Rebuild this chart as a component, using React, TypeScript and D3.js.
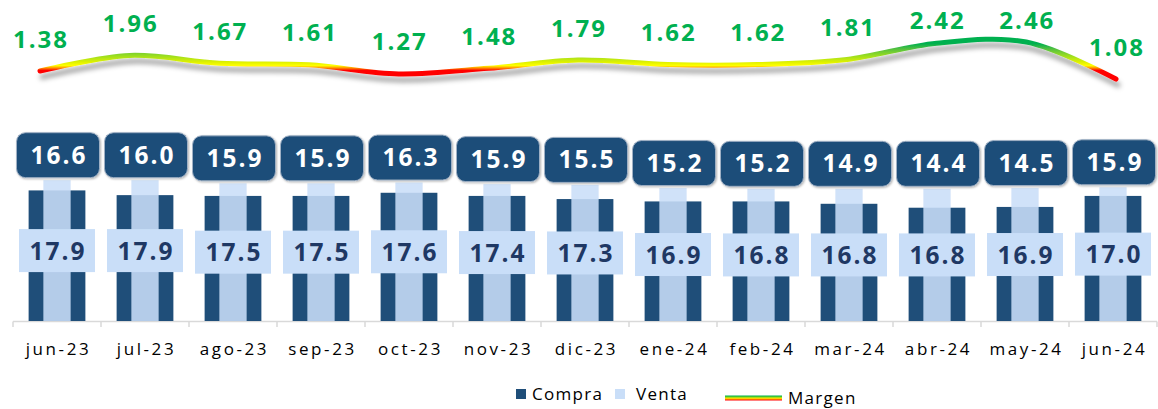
import React from "react";
import * as d3 from "d3";

const categories = ["jun-23","jul-23","ago-23","sep-23","oct-23","nov-23","dic-23","ene-24","feb-24","mar-24","abr-24","may-24","jun-24"];
const compra = [16.6,16.0,15.9,15.9,16.3,15.9,15.5,15.2,15.2,14.9,14.4,14.5,15.9];
const venta = [17.9,17.9,17.5,17.5,17.6,17.4,17.3,16.9,16.8,16.8,16.8,16.9,17.0];
const margen = [1.38,1.96,1.67,1.61,1.27,1.48,1.79,1.62,1.62,1.81,2.42,2.46,1.08];
const legendItems = ["Compra","Venta","Margen"];

const W = 1158, H = 409;
const DARK = "#1f4e79";
const LIGHT = "#c9def8";
const NAVY = "#1f3864";
const GREEN = "#00b050";
const FONT = "'Open Sans', 'DejaVu Sans', sans-serif";

export default function App() {
  const x = d3.scaleBand<string>().domain(categories).range([13, 1157]).paddingInner(0).paddingOuter(0);
  const y = d3.scaleLinear().domain([0, 30]).range([321, 85]);
  const xm = d3.scalePoint<string>().domain(categories).range([40, 1116]);
  const ym = d3.scaleLinear().domain([0, 4]).range([108, 0.8]);
  const bw = x.bandwidth();
  const cw = bw * 0.645;
  const vw = bw * 0.31;

  const line = d3.line<number>()
    .x((_, i) => xm(categories[i])!)
    .y((d) => ym(d))
    .curve(d3.curveCatmullRom.alpha(0.5));

  const gLo = 1.0, gHi = 2.6;
  const stops: [number, string][] = [
    [1.0, "#ff0000"], [1.40, "#ff0000"], [1.50, "#ff9900"], [1.58, "#ffff00"],
    [1.72, "#ddf000"], [1.95, "#99dd22"], [2.2, "#55c040"], [2.4, GREEN], [2.6, GREEN],
  ];

  const ticks = d3.range(categories.length + 1).map((i) => 13 + i * bw);

  return (
    <svg width={W} height={H} style={{ position: "absolute", left: 0, top: 0, background: "#fff" }} fontFamily={FONT}>
      <defs>
        <linearGradient id="mg" gradientUnits="userSpaceOnUse" x1={0} x2={0} y1={ym(gLo)} y2={ym(gHi)}>
          {stops.map(([v, c], i) => (
            <stop key={i} offset={(v - gLo) / (gHi - gLo)} stopColor={c} />
          ))}
        </linearGradient>
        <linearGradient id="lg" x1={0} x2={0} y1={0} y2={1}>
          <stop offset="0" stopColor={GREEN} />
          <stop offset="0.33" stopColor="#66cc22" />
          <stop offset="0.5" stopColor="#ffff00" />
          <stop offset="0.7" stopColor="#ff9900" />
          <stop offset="1" stopColor="#ff0000" />
        </linearGradient>
        <filter id="sh" x="-5%" y="-50%" width="110%" height="250%">
          <feDropShadow dx="2" dy="6" stdDeviation="2.5" floodColor="#000" floodOpacity="0.35" />
        </filter>
        <filter id="bs" x="-10%" y="-10%" width="120%" height="130%">
          <feDropShadow dx="1" dy="1" stdDeviation="0.8" floodColor="#000" floodOpacity="0.3" />
        </filter>
      </defs>

      {/* axis */}
      <line x1={13} x2={1157} y1={321.5} y2={321.5} stroke="#d9d9d9" strokeWidth={1.5} />
      {ticks.map((t, i) => (
        <line key={i} x1={t} x2={t} y1={321.5} y2={327} stroke="#d9d9d9" strokeWidth={1.5} />
      ))}

      {/* bars */}
      {categories.map((c, i) => {
        const cx = x(c)! + bw / 2;
        return (
          <g key={c}>
            <rect x={cx - cw / 2} y={y(compra[i])} width={cw} height={y(0) - y(compra[i])} fill={DARK} />
            <rect x={cx - vw / 2} y={y(venta[i])} width={vw} height={y(0) - y(venta[i])} fill={LIGHT} fillOpacity={0.88} />
          </g>
        );
      })}

      {/* venta labels */}
      {categories.map((c, i) => {
        const cx = x(c)! + bw / 2;
        const cy = (y(venta[i]) + y(0)) / 2;
        return (
          <g key={c}>
            <rect x={cx - 38} y={cy - 21.5} width={76} height={43} fill={LIGHT} />
            <text x={cx + 1} y={cy + 9} textAnchor="middle" fontSize={24.5} fontWeight={700} fill={NAVY} letterSpacing={2}>
              {venta[i].toFixed(1)}
            </text>
          </g>
        );
      })}

      {/* compra labels */}
      {categories.map((c, i) => {
        const cx = x(c)! + bw / 2 + 1;
        const bottom = y(venta[i]) - 2.5;
        const top = bottom - 45;
        return (
          <g key={c}>
            <rect x={cx - 41.5} y={top} width={83} height={45} rx={9} fill={DARK} stroke="#9fb0c4" strokeWidth={1} filter="url(#bs)" />
            <text x={cx + 1} y={top + 31} textAnchor="middle" fontSize={24.5} fontWeight={700} fill="#fff" letterSpacing={2}>
              {compra[i].toFixed(1)}
            </text>
          </g>
        );
      })}

      {/* margin line */}
      <path d={line(margen)!} fill="none" stroke="url(#mg)" strokeWidth={5} strokeLinecap="round" filter="url(#sh)" />
      {margen.map((m, i) => {
        const cy = Math.max(20, ym(m) - 32);
        return (
          <text key={i} x={xm(categories[i])! + 1} y={cy + 8.5} textAnchor="middle" fontSize={24} fontWeight={700} fill={GREEN} letterSpacing={2}>
            {m.toFixed(2)}
          </text>
        );
      })}

      {/* x labels */}
      {categories.map((c) => (
        <text key={c} x={x(c)! + bw / 2 + 1.5} y={355} textAnchor="middle" fontSize={17} fill="#000" letterSpacing={2.6}>
          {c}
        </text>
      ))}

      {/* legend */}
      <g>
        <rect x={516} y={389} width={10} height={10} fill={DARK} />
        <text x={532} y={400} fontSize={17} letterSpacing={1.3} fill="#000">{legendItems[0]}</text>
        <rect x={615} y={389} width={10} height={10} fill={LIGHT} />
        <text x={636} y={400} fontSize={17} letterSpacing={1.3} fill="#000">{legendItems[1]}</text>
        <rect x={725} y={395.5} width={57} height={5} fill="url(#lg)" />
        <text x={788} y={404} fontSize={17} letterSpacing={1.3} fill="#000">{legendItems[2]}</text>
      </g>
    </svg>
  );
}
